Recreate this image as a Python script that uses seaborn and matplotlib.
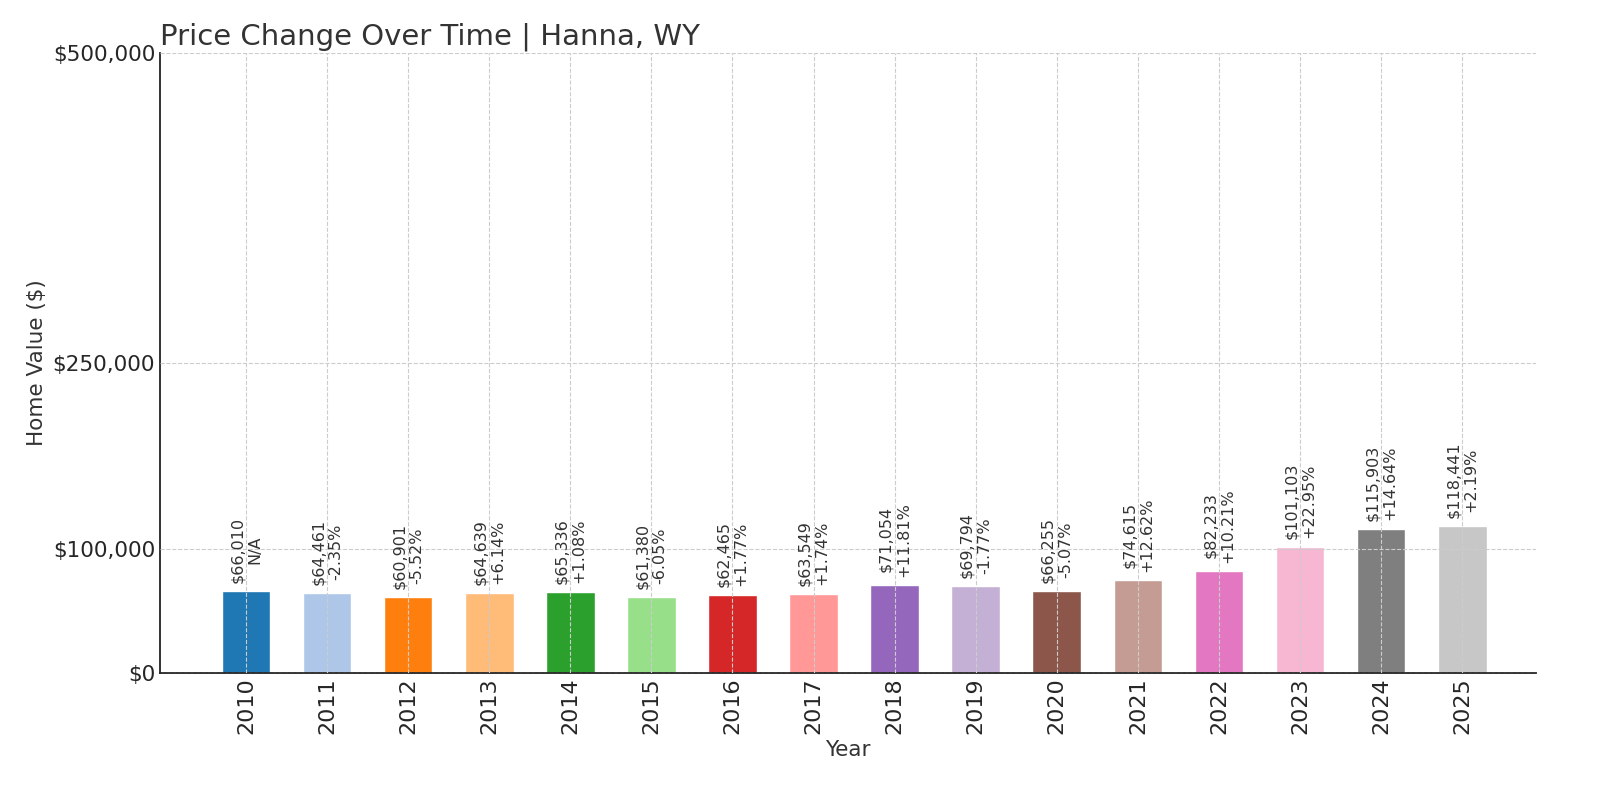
import matplotlib
matplotlib.use("Agg")
import matplotlib.pyplot as plt
import seaborn as sns
import pandas as pd
from matplotlib.ticker import FuncFormatter

years = [str(y) for y in range(2010, 2026)]
values = [66010, 64461, 60901, 64639, 65336, 61380, 62465, 63549,
          71054, 69794, 66255, 74615, 82233, 101103, 115903, 118441]
changes = ["N/A", "-2.35%", "-5.52%", "+6.14%", "+1.08%", "-6.05%", "+1.77%", "+1.74%",
           "+11.81%", "-1.77%", "-5.07%", "+12.62%", "+10.21%", "+22.95%", "+14.64%", "+2.19%"]
y_ticks = [0, 100000, 250000, 500000]


def main():
    sns.set_style("white")
    plt.rcParams['font.family'] = ['DejaVu Sans']
    df = pd.DataFrame({"Year": years, "Value": values})

    fig, ax = plt.subplots(figsize=(16, 8), dpi=100)
    fig.subplots_adjust(left=0.1, right=0.96, top=0.934, bottom=0.159)

    sns.barplot(data=df, x="Year", y="Value", hue="Year", palette="tab20",
                width=0.6, saturation=1, legend=False, dodge=False, ax=ax)

    # labels above each bar
    for i, (v, c) in enumerate(zip(values, changes)):
        ax.text(i, v + 6500, f"${v:,}\n{c}", rotation=90, ha="center", va="bottom",
                fontsize=11.5, color="#333333", linespacing=1.2)

    ax.set_ylim(0, 500000)
    ax.set_xlim(-1.06, 15.91)
    ax.set_yticks(y_ticks)
    ax.yaxis.set_major_formatter(FuncFormatter(lambda v, p: f"${v:,.0f}"))
    ax.tick_params(axis="x", labelrotation=90, labelsize=16, direction="in", length=6)
    ax.tick_params(axis="y", labelsize=15.5, direction="in", length=6)
    ax.grid(True, linestyle="--", color="#cccccc", linewidth=0.8)
    ax.set_axisbelow(False)

    for s in ["top", "right"]:
        ax.spines[s].set_visible(False)
    for s in ["left", "bottom"]:
        ax.spines[s].set_color("#222222")
        ax.spines[s].set_linewidth(1.3)

    ax.set_xlabel("Year", fontsize=15.5, color="#333333")
    ax.set_ylabel("Home Value ($)", fontsize=15.5, color="#333333")
    ax.set_title("Price Change Over Time | Hanna, WY", loc="left", fontsize=21, color="#333333")

    fig.savefig("out.png")


if __name__ == "__main__":
    main()
